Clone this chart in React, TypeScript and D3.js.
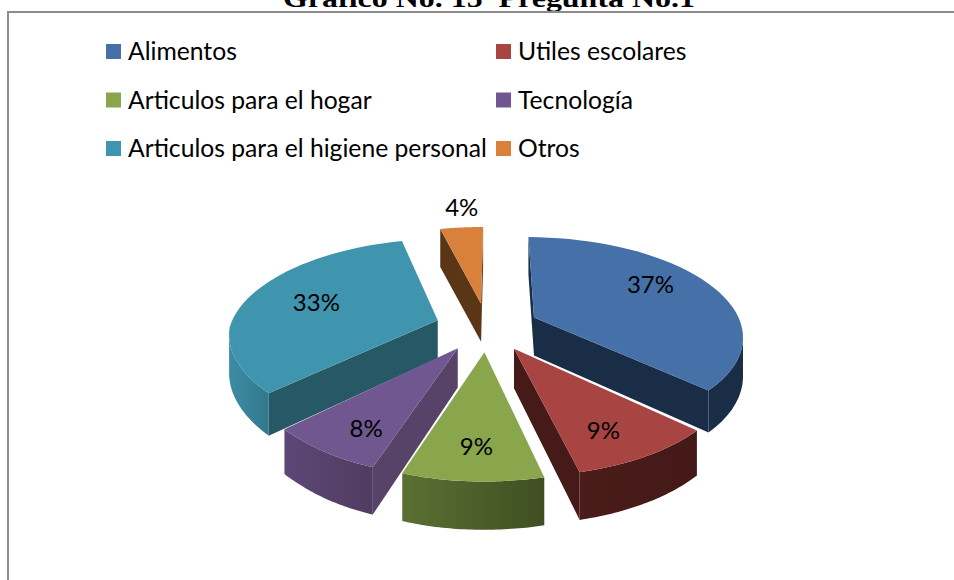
import React from "react";
import * as d3 from "d3";

const categories = ["Alimentos", "Utiles escolares", "Articulos para el hogar", "Tecnología", "Articulos para el higiene personal", "Otros"];
const shares = [36.9, 9.3, 8.9, 7.85, 33.05, 4.0];
const topColors = ["#4570A8", "#A84442", "#8AA64C", "#71578F", "#4095AE", "#D9803A"];
const radialColors = ["#1A2D47", "#451A18", "#4F6029", "#574368", "#265866", "#5A3617"];
const arcLeftColors = ["#1A2D47", "#4A1C1A", "#5B7033", "#5D4777", "#3C8CA4", "#5A3617"];
const arcRightColors = ["#1A2D47", "#431917", "#3F4F22", "#503C60", "#33788D", "#5A3617"];
const labelAngles = [58.3, 152.9, 182.3, 209, 287.9, 354.6];
const labelRadii = [0.73, 0.765, 0.76, 0.77, 0.65, 1.32];
const paintOrder = [5, 4, 0, 3, 1, 2];
const legendColumns = [0, 1, 0, 1, 0, 1];
const legendRows = [0, 0, 1, 1, 2, 2];

const CX = 487, CY = 327, BX = 208, AY = 97.2, K = 0.171, DEPTH = 38, EXPLODE = 0.25;
const START_DEG = 0.4;
const LABEL_FONT = "Lato, 'Open Sans', sans-serif";

type P = [number, number];
const scale = (v: number) => 1 / (1 - K * v);
const proj = (u: number, v: number, low = false): P => {
  const s = scale(v);
  // the near left of the pie is drawn with a weaker perspective widening
  const sx = u < 0 && v > 0 ? Math.pow(s, 1 - 0.3 * Math.min(1, -u / 0.8)) : s;
  return [CX + BX * u * sx, CY + AY * v * s + (low ? DEPTH * Math.max(1, s) : 0)];
};
const unit = (a: number): P => [Math.sin(a), -Math.cos(a)];
const poly = (pts: P[]) => (d3.line() as any)(pts) + "Z";
const area = (pts: P[]) => d3.polygonArea(pts);

const startAngle = (START_DEG * Math.PI) / 180;
const arcs = d3.pie<number>().sort(null).startAngle(startAngle).endAngle(startAngle + 2 * Math.PI)(shares);

export default function App() {
  const slices = arcs.map((arc, i) => {
    const mid = (arc.startAngle + arc.endAngle) / 2;
    const [mu, mv] = unit(mid);
    const ou = mu * EXPLODE, ov = mv * EXPLODE;
    const steps = d3.range(41).map((t) => arc.startAngle + ((arc.endAngle - arc.startAngle) * t) / 40);
    const rim: [number, number][] = steps.map((a) => { const [x, y] = unit(a); return [ou + x, ov + y]; });
    const top: P[] = [proj(ou, ov), ...rim.map(([u, v]) => proj(u, v))];
    const walls: { d: string; fill: string }[] = [];
    const quad = (p: [number, number], q: [number, number]): P[] => [proj(p[0], p[1]), proj(q[0], q[1]), proj(q[0], q[1], true), proj(p[0], p[1], true)];
    const apex: [number, number] = [ou, ov];
    const startWall = quad(apex, rim[0]);
    const endWall = quad(rim[rim.length - 1], apex);
    if (area(startWall) > 0) walls.push({ d: poly(startWall), fill: radialColors[i] });
    if (area(endWall) > 0) walls.push({ d: poly(endWall), fill: radialColors[i] });
    const front = d3.range(rim.length - 1).filter((j) => area(quad(rim[j], rim[j + 1])) > 0);
    let arcD = "";
    let x0 = 0, x1 = 1;
    if (front.length) {
      const a = rim.slice(front[0], front[front.length - 1] + 2);
      const up = a.map(([u, v]) => proj(u, v));
      const lo = a.map(([u, v]) => proj(u, v, true)).reverse();
      arcD = poly([...up, ...lo]);
      const xs = up.map((p) => p[0]);
      x0 = d3.min(xs)!; x1 = d3.max(xs)!;
    }
    const la = (labelAngles[i] * Math.PI) / 180;
    const [lu, lv] = unit(la);
    const labelAt = proj(ou + lu * labelRadii[i], ov + lv * labelRadii[i]);
    return { i, top, walls, arcD, x0, x1, labelAt };
  });
  const byIndex = (i: number) => slices[i];
  return (
    <svg width={954} height={580} style={{ position: "absolute", left: 0, top: 0, background: "#fff" }}>
      <defs>
        {slices.map((s) => (
          <linearGradient key={s.i} id={`wall${s.i}`} gradientUnits="userSpaceOnUse" x1={s.x0} x2={s.x1} y1={0} y2={0}>
            <stop offset="0" stopColor={arcLeftColors[s.i]} />
            <stop offset="1" stopColor={arcRightColors[s.i]} />
          </linearGradient>
        ))}
      </defs>
      <text x={283} y={7} textLength={412} lengthAdjust="spacingAndGlyphs" fontFamily="'Liberation Serif', serif" fontWeight="bold" fontSize={25} fill="#000" xmlSpace="preserve">Gráfico No. 15  Pregunta No.1</text>
      <path d="M8 580V12H954" fill="none" stroke="#8c8c8c" strokeWidth={2} />
      {categories.map((c, i) => {
        const x = legendColumns[i] ? 496 : 106;
        const y = 51 + legendRows[i] * 48.5;
        return (
          <g key={c}>
            <rect x={x} y={y - 7} width={15} height={15} fill={topColors[i]} />
            <text x={x + 22} y={y + 9} fontFamily={LABEL_FONT} fontSize={24.7} fill="#000">{c}</text>
          </g>
        );
      })}
      {paintOrder.map((i) => {
        const s = byIndex(i);
        return (
          <g key={i}>
            {s.walls.map((w, j) => <path key={j} d={w.d} fill={w.fill} />)}
            {s.arcD && <path d={s.arcD} fill={`url(#wall${i})`} />}
            <path d={poly(s.top)} fill={topColors[i]} />
          </g>
        );
      })}
      {slices.map((s) => (
        <text key={s.i} x={s.labelAt[0]} y={s.labelAt[1] + 9} textAnchor="middle" fontFamily={LABEL_FONT} fontSize={24} fill="#000">{Math.round(shares[s.i])}%</text>
      ))}
    </svg>
  );
}
